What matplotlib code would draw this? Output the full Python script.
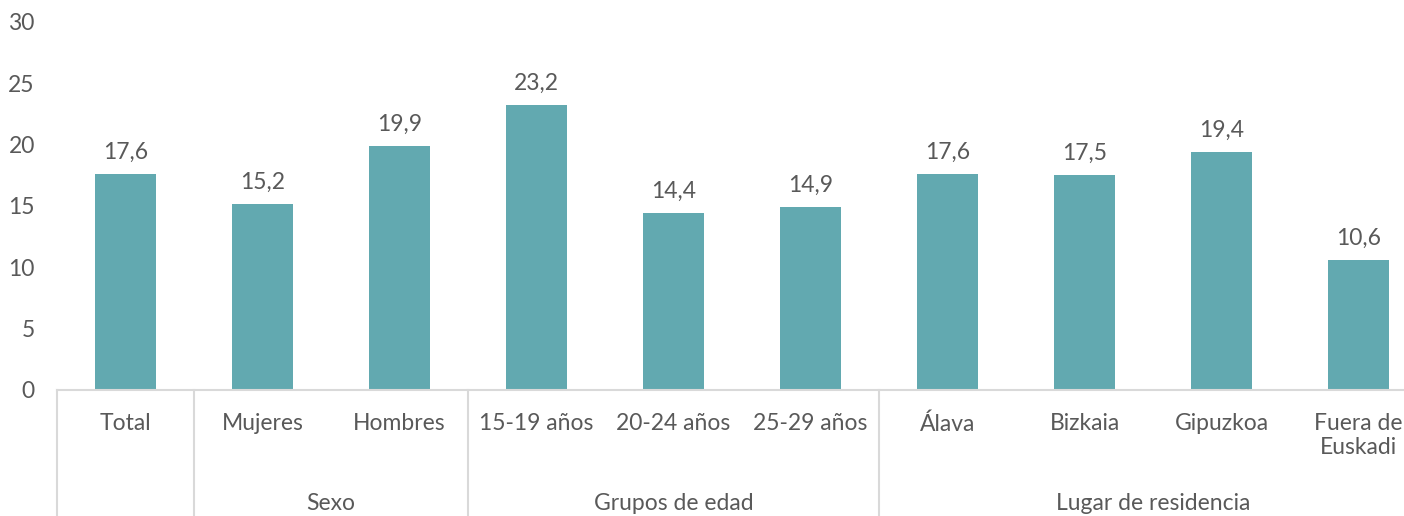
import matplotlib
matplotlib.use('Agg')
import matplotlib.pyplot as plt

categories = ['Total', 'Mujeres', 'Hombres', '15-19 años', '20-24 años', '25-29 años',
              'Álava', 'Bizkaia', 'Gipuzkoa', 'Fuera de\nEuskadi']
values = [17.6, 15.2, 19.9, 23.2, 14.4, 14.9, 17.6, 17.5, 19.4, 10.6]
groups = ['', 'Sexo', 'Grupos de edad', 'Lugar de residencia']
group_sizes = [1, 2, 3, 4]

plt.rcParams['font.family'] = ['Lato', 'DejaVu Sans']
text_color = '#595959'
line_color = '#D9D9D9'
bar_color = '#62A9B0'
fs = 16.5

fig = plt.figure(figsize=(14.04, 5.16), dpi=100)
W, H = 1404, 516
left, right = 57, 57 + 137 * 10
y0, y30 = 390, 22
ax = fig.add_axes([left / W, (H - y0) / H, (right - left) / W, (y0 - y30) / H])
px = 30 / (y0 - y30)  # data units per pixel

x = list(range(len(categories)))
ax.bar(x, values, width=0.44, color=bar_color)
ax.set_xlim(-0.5, len(categories) - 0.5)
ax.set_ylim(0, 30)
ax.set_yticks(range(0, 31, 5))
ax.tick_params(axis='y', length=0, labelsize=fs, colors=text_color, pad=16)
ax.set_xticks([])
for s in ['top', 'right', 'left']:
    ax.spines[s].set_visible(False)
ax.spines['bottom'].set_color(line_color)
ax.spines['bottom'].set_linewidth(1.5)

for xi, v in zip(x, values):
    ax.annotate(f'{v:.1f}'.replace('.', ','), (xi, v), xytext=(0, 8),
                textcoords='offset points', ha='center', va='bottom',
                fontsize=fs, color=text_color)

# category labels (one text per line)
for xi, c in zip(x, categories):
    for k, line in enumerate(c.split('\n')):
        ax.text(xi, -(424 - y0 + 24 * k) * px, line, ha='center', va='center',
                fontsize=fs, color=text_color, clip_on=False)

# group separators and labels
grp_y = -(504 - y0) * px
bottom = -(H - y0) * px
pos = -0.5
ax.plot([pos, pos], [0, bottom], color=line_color, lw=1.5, clip_on=False)
for g, n in zip(groups, group_sizes):
    end = pos + n
    ax.plot([end, end], [0, bottom], color=line_color, lw=1.5, clip_on=False)
    if g:
        ax.text((pos + end) / 2, grp_y, g, ha='center', va='center',
                fontsize=fs, color=text_color, clip_on=False)
    pos = end

fig.savefig('out.png', dpi=100)
